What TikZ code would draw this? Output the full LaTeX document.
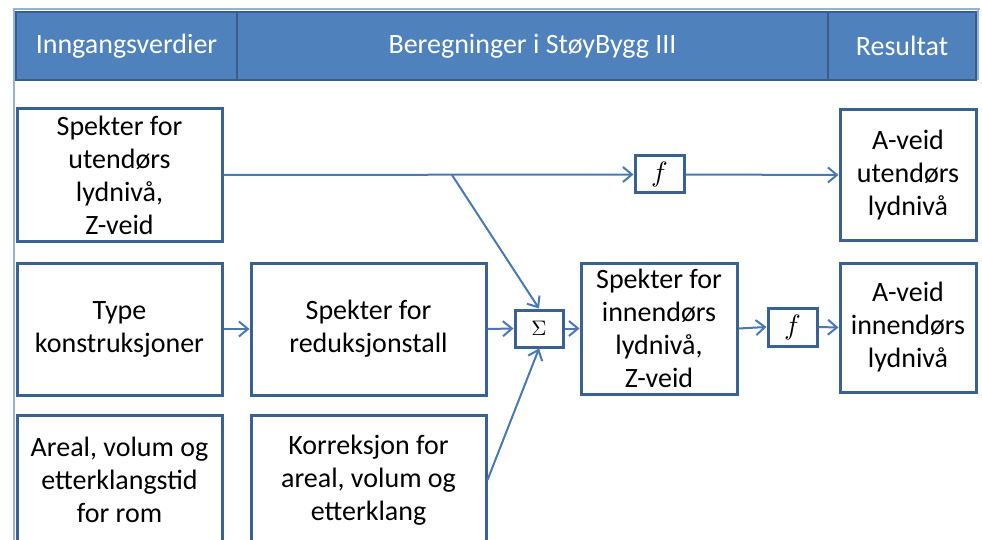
\documentclass[tikz,border=0pt]{standalone}
\usepackage[no-math]{fontspec}
\usepackage{graphicx}
\setmainfont{Carlito}
\usetikzlibrary{arrows.meta}

\definecolor{headfill}{HTML}{4F81BD}
\definecolor{headline}{HTML}{385D8A}
\definecolor{boxline}{HTML}{3A6192}
\definecolor{wireblue}{HTML}{4A78B0}
\definecolor{framelight}{HTML}{95B3D7}

% taller first line, which sets the text a little lower in its box
\newcommand\firstlinestrut{\rule{0pt}{25pt}}

\tikzset{
  headcell/.style={draw=headline, fill=headfill, line width=2.5pt, text=white,
    minimum height=68pt, inner sep=0pt, font=\fontsize{28}{32}\selectfont},
  stepbox/.style={draw=boxline, fill=white, line width=3pt, align=center,
    inner sep=0pt, font=\fontsize{28}{33}\selectfont},
  lowtext/.style={execute at begin node=\firstlinestrut},
  opbox/.style={draw=boxline, fill=white, line width=3pt, inner sep=0pt},
  wire/.style={draw=wireblue, line width=2pt,
    -{Straight Barb[length=9pt, width=15pt, line width=2pt]}},
}

\begin{document}
\begin{tikzpicture}[x=1pt, y=-1pt]
  \useasboundingbox (0,0) rectangle (982,540);
  \clip (0,0) rectangle (982,540);

  % thin outer frame
  \draw[framelight, line width=1.8pt] (14,540) -- (14,9) -- (980,9);
  \draw[framelight, line width=1.8pt] (978,9) -- (978,80);

  % header row
  \node[headcell, minimum width=221pt] (h1) at (126.5,46) {Inngangsverdier};
  \node[headcell, minimum width=591pt] (h2) at (532.5,46) {Beregninger i StøyBygg III};
  \node[headcell, minimum width=148pt] (h3) at (902,46) {Resultat};

  % input column
  \node[stepbox, lowtext, minimum width=205pt, minimum height=132pt] (a) at (119.5,175)
    {Spekter for\\utendørs\\lydnivå,\\Z-veid};
  \node[stepbox, lowtext, minimum width=205pt, minimum height=132pt] (b) at (119.5,329)
    {Type\\konstruksjoner};
  \node[stepbox, minimum width=205pt, minimum height=130pt] (d) at (119.5,480)
    {Areal, volum og\\etterklangstid\\for rom};

  % calculation column
  \node[stepbox, lowtext, minimum width=235pt, minimum height=132pt] (c) at (368.5,329)
    {Spekter for\\reduksjonstall};
  \node[stepbox, minimum width=235pt, minimum height=130pt] (e) at (368.5,480)
    {Korreksjon for\\areal, volum og\\etterklang};
  \node[opbox, minimum width=48pt, minimum height=37pt] (sum) at (539,328.5)
    {\scalebox{2.1}{$\Sigma$}};
  \node[stepbox, lowtext, minimum width=156pt, minimum height=131pt] (fin) at (659,328.5)
    {Spekter for\\innendørs\\lydnivå,\\Z-veid};
  \node[opbox, minimum width=49pt, minimum height=37pt] (f1) at (659.5,174.5)
    {\scalebox{2.8}{$f$}};
  \node[opbox, minimum width=49pt, minimum height=38pt] (f2) at (792.5,327)
    {\scalebox{2.8}{$f$}};

  % result column
  \node[stepbox, lowtext, minimum width=136pt, minimum height=130pt] (g) at (908,175)
    {A-veid\\utendørs\\lydnivå};
  \node[stepbox, lowtext, minimum width=136pt, minimum height=129pt] (h) at (908,327.5)
    {A-veid\\innendørs\\lydnivå};

  % connectors
  \coordinate (split) at (452,175);
  \draw[wire] (a.east) -- (f1.west);
  \draw[wire] (f1.east) -- (g.west);
  \draw[wire] (split) -- (sum.north);
  \draw[wire] (b.east) -- (c.west);
  \draw[wire] (c.east) -- (sum.west);
  \draw[wire] (e.east) -- (sum.south);
  \draw[wire] (sum.east) -- (fin.west);
  \draw[wire] (fin.east) -- (f2.west);
  \draw[wire] (f2.east) -- (h.west);
\end{tikzpicture}
\end{document}
